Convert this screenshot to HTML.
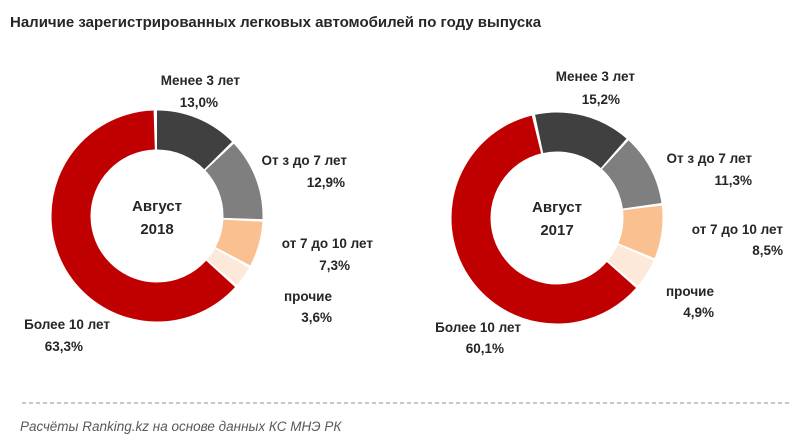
<!DOCTYPE html>
<html><head><meta charset="utf-8"><style>
body{margin:0;background:#fff;}
svg{display:block;font-family:"Liberation Sans",sans-serif;}
.l{font-size:13.5px;font-weight:bold;fill:#262626;}
.c{font-size:15px;font-weight:bold;fill:#262626;}
</style></head><body>
<svg width="800" height="447" viewBox="0 0 800 447">
<text x="10" y="27" font-size="15" font-weight="bold" fill="#262626">Наличие зарегистрированных легковых автомобилей по году выпуска</text>
<g transform="translate(157,216) rotate(-90)" fill="none" stroke-width="39">
<circle r="86" pathLength="100" stroke="#404040" stroke-dasharray="12.6 100" stroke-dashoffset="0"/>
<circle r="86" pathLength="100" stroke="#7f7f7f" stroke-dasharray="12.5 100" stroke-dashoffset="-13"/>
<circle r="86" pathLength="100" stroke="#fac090" stroke-dasharray="6.9 100" stroke-dashoffset="-25.9"/>
<circle r="86" pathLength="100" stroke="#fde9d9" stroke-dasharray="3.2 100" stroke-dashoffset="-33.2"/>
<circle r="86" pathLength="100" stroke="#c00000" stroke-dasharray="62.8 100" stroke-dashoffset="-36.8"/>
</g>
<text class="c" x="157" y="211" text-anchor="middle">Август</text>
<text class="c" x="157" y="234" text-anchor="middle">2018</text>
<g transform="translate(557,218) rotate(-102)" fill="none" stroke-width="39">
<circle r="86" pathLength="100" stroke="#404040" stroke-dasharray="14.8 100" stroke-dashoffset="0"/>
<circle r="86" pathLength="100" stroke="#7f7f7f" stroke-dasharray="10.9 100" stroke-dashoffset="-15.2"/>
<circle r="86" pathLength="100" stroke="#fac090" stroke-dasharray="8.1 100" stroke-dashoffset="-26.5"/>
<circle r="86" pathLength="100" stroke="#fde9d9" stroke-dasharray="4.5 100" stroke-dashoffset="-35"/>
<circle r="86" pathLength="100" stroke="#c00000" stroke-dasharray="59.7 100" stroke-dashoffset="-39.9"/>
</g>
<text class="c" x="557" y="212" text-anchor="middle">Август</text>
<text class="c" x="557" y="235" text-anchor="middle">2017</text>
<g class="l" text-anchor="end">
<text class="l" x="240" y="85">Менее 3 лет</text>
<text class="l" x="218" y="107">13,0%</text>
<text class="l" x="347" y="165">От з до 7 лет</text>
<text class="l" x="345" y="187">12,9%</text>
<text class="l" x="373" y="248">от 7 до 10 лет</text>
<text class="l" x="350" y="270">7,3%</text>
<text class="l" x="332" y="301">прочие</text>
<text class="l" x="332" y="322">3,6%</text>
<text class="l" x="110" y="329">Более 10 лет</text>
<text class="l" x="83" y="351">63,3%</text>
<text class="l" x="635" y="81">Менее 3 лет</text>
<text class="l" x="620" y="104">15,2%</text>
<text class="l" x="752" y="163">От з до 7 лет</text>
<text class="l" x="752" y="185">11,3%</text>
<text class="l" x="783" y="234">от 7 до 10 лет</text>
<text class="l" x="783" y="255">8,5%</text>
<text class="l" x="714" y="296">прочие</text>
<text class="l" x="714" y="317">4,9%</text>
<text class="l" x="521" y="332">Более 10 лет</text>
<text class="l" x="504" y="353">60,1%</text>
</g>
<line x1="22" y1="403" x2="790" y2="403" stroke="#8c8c8c" stroke-width="1" stroke-dasharray="4 3"/>
<text x="20" y="431" font-size="13.5" font-style="italic" fill="#595959">Расчёты Ranking.kz на основе данных КС МНЭ РК</text>
</svg>
</body></html>
